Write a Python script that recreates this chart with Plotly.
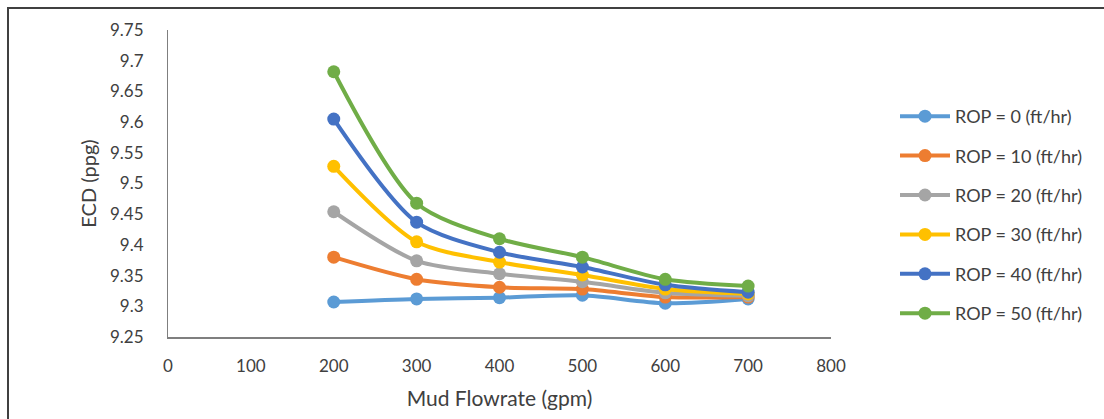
import plotly.graph_objects as go

flowrate = [200, 300, 400, 500, 600, 700]
rop_0 = [9.307, 9.312, 9.314, 9.318, 9.305, 9.312]
rop_10 = [9.380, 9.344, 9.331, 9.328, 9.315, 9.315]
rop_20 = [9.454, 9.374, 9.353, 9.340, 9.322, 9.317]
rop_30 = [9.528, 9.405, 9.372, 9.351, 9.328, 9.320]
rop_40 = [9.605, 9.437, 9.388, 9.364, 9.335, 9.323]
rop_50 = [9.682, 9.468, 9.410, 9.380, 9.344, 9.333]
names = ["ROP = 0 (ft/hr)", "ROP = 10 (ft/hr)", "ROP = 20 (ft/hr)",
         "ROP = 30 (ft/hr)", "ROP = 40 (ft/hr)", "ROP = 50 (ft/hr)"]
colors = ["#5B9BD5", "#ED7D31", "#A5A5A5", "#FFC000", "#4472C4", "#70AD47"]
series = [rop_0, rop_10, rop_20, rop_30, rop_40, rop_50]

FONT = "Lato"
TXT = "#404040"

fig = go.Figure()
for i, (n, c, s) in enumerate(zip(names, colors, series)):
    fig.add_trace(go.Scatter(
        x=flowrate, y=s, name=n, mode="lines+markers",
        line=dict(color=c, width=4, shape="spline", smoothing=0.8),
        marker=dict(color=c, size=13),
        legendgroup=f"g{i}",
    ))

L, R, T, B = 168, 273, 30, 82
W, H = 1104, 419
pw, ph = W - L - R, H - T - B

fig.update_layout(
    width=W, height=H,
    margin=dict(l=L, r=R, t=T, b=B),
    paper_bgcolor="white", plot_bgcolor="white",
    font=dict(family=FONT, color=TXT, size=16),
    showlegend=True,
    legend=dict(
        x=(895 - L) / pw, xanchor="left",
        y=(337 - 98) / ph, yanchor="top",
        itemwidth=50, tracegroupgap=13,
        font=dict(family=FONT, size=18, color=TXT),
        bgcolor="rgba(0,0,0,0)",
    ),
    xaxis=dict(
        range=[0, 800], dtick=100, showgrid=False, zeroline=False,
        showline=True, linecolor="#7f7f7f", linewidth=2,
        ticks="", ticklabelstandoff=13, tickfont=dict(size=17, family=FONT, color=TXT),
        title=dict(text="Mud Flowrate (gpm)", font=dict(size=21, family=FONT, color=TXT), standoff=16),
    ),
    yaxis=dict(
        range=[9.25, 9.75], dtick=0.05, showgrid=False, zeroline=False,
        showline=True, linecolor="#7f7f7f", linewidth=1,
        ticks="", ticklabelstandoff=20, tickfont=dict(size=17, family=FONT, color=TXT),
        title=dict(text="ECD (ppg)", font=dict(size=20, family=FONT, color=TXT), standoff=8),
    ),
    shapes=[dict(
        type="rect", xref="paper", yref="paper",
        x0=(8 - L) / pw, x1=(1200 - L) / pw,
        y0=(337 - 500) / ph, y1=(337 - 8) / ph,
        line=dict(color="#404040", width=2), fillcolor="rgba(0,0,0,0)", layer="below",
    )],
)

fig.write_html("out.html")
